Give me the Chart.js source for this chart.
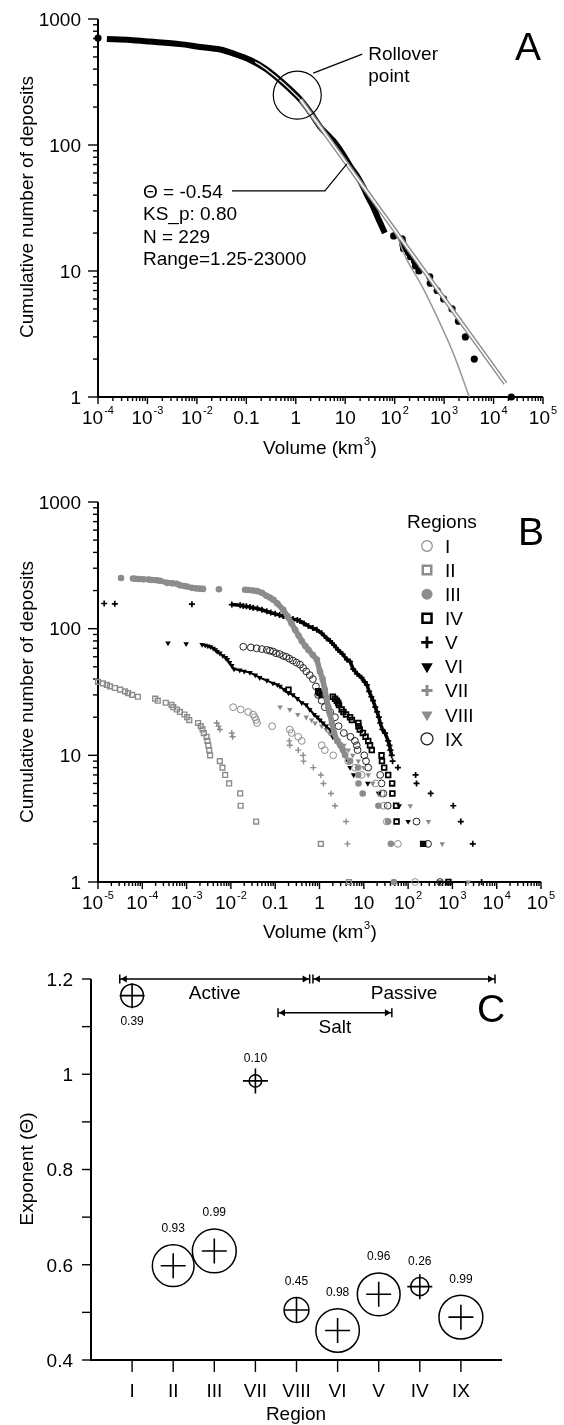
<!DOCTYPE html>
<html lang="en">
<head>
<meta charset="utf-8">
<title>Deposit volume distributions</title>
<script src="https://cdn.jsdelivr.net/npm/chart.js@4.4.1/dist/chart.umd.min.js"></script>
<style>
  html, body { margin: 0; padding: 0; background: #fff; }
  #page { position: relative; width: 564px; height: 1425px; overflow: hidden; }
  canvas { position: absolute; left: 0; }
</style>
</head>
<body>
<div id="page">
  <canvas id="chartA" width="564" height="465" style="top:0px"></canvas>
  <canvas id="chartB" width="564" height="480" style="top:465px"></canvas>
  <canvas id="chartC" width="564" height="480" style="top:945px"></canvas>
</div>
<script>
const FONT = '"Liberation Sans", Arial, Helvetica, sans-serif';
const GREY = '#8c8c8c';

// ---------- A: all deposits (x = log10 of volume in km3, y = cumulative count) ----------
const aCurveLogVol = [-3.82, -3.35, -2.95, -2.34, -1.94, -1.53, -1.23, -0.92, -0.60, -0.25, 0.097, 0.30, 0.50, 0.76, 0.95, 1.10, 1.25, 1.37, 1.47, 1.57, 1.65, 1.71, 1.80];
const aCurveCount = [693, 681, 662, 632, 600, 573, 527, 473, 400, 309, 229, 180, 138, 108, 85, 68, 56, 46, 38, 32, 27, 24, 20];
const aDotLogVol = [-4.0, 1.98, 2.15, 2.16, 2.17, 2.18, 2.28, 2.32, 2.40, 2.42, 2.49, 2.71, 2.72, 2.86, 2.99, 3.16, 3.29, 3.43, 3.61, 4.36];
const aDotCount = [706, 19, 18, 17, 16, 15, 14, 13, 12, 11, 10, 9, 8, 7, 6, 5, 4, 3, 2, 1];
const aCoreLogVol = [-0.82, -0.60, -0.25, 0.097];
const aCoreCount = [456, 400, 309, 229];
const aPowerLogVol = [0.097, 4.24];
const aPowerCount = [229, 1.28];
const aTaperLogVol = [0.097, 1.0, 1.7, 2.0, 2.25, 2.52, 2.86, 3.19, 3.51];
const aTaperCount = [229, 73.5, 30.5, 20.5, 12.2, 8.0, 4.3, 2.2, 1.0];
const aStats = ['\u0398 = -0.54', 'KS_p: 0.80', 'N = 229', 'Range=1.25-23000'];
const rollover = [0.03, 249];      // log10 volume, count
const statsTip = [1.034, 70.8];    // point on the power-law fit

// ---------- B: by region ----------
const regionNames = ['I', 'II', 'III', 'IV', 'V', 'VI', 'VII', 'VIII', 'IX'];
const volI = [-1.95, -1.78, -1.61, -1.50, -1.46, -1.43, -1.41, -1.07, -0.67, -0.63, -0.48, -0.40, 0.05, 0.12, 0.31, 0.65, 0.80, 0.95, 1.27, 1.40, 1.45, 1.52, 1.77, 2.16];
const numI = [24, 23, 22, 21, 20, 19, 18, 17, 16, 15, 14, 13, 12, 11, 10, 9, 8, 7, 6, 5, 4, 3, 2, 1];
const volII = [-5.0, -4.89, -4.80, -4.73, -4.62, -4.50, -4.39, -4.32, -4.23, -4.10, -3.71, -3.65, -3.47, -3.34, -3.30, -3.22, -3.15, -3.05, -2.99, -2.94, -2.74, -2.68, -2.64, -2.61, -2.55, -2.53, -2.51, -2.49, -2.47, -2.25, -2.19, -2.13, -2.04, -1.79, -1.78, -1.43, 0.03, 0.665];
const numII = [38, 37, 36, 35, 34, 33, 32, 31, 30, 29, 28, 27, 26, 25, 24, 23, 22, 21, 20, 19, 18, 17, 16, 15, 14, 13, 12, 11, 10, 9, 8, 7, 6, 5, 4, 3, 2, 1];
const volIII = [-4.48, -4.21, -4.15, -4.08, -3.98, -3.85, -3.78, -3.68, -3.60, -3.44, -3.33, -3.22, -3.15, -3.05, -2.99, -2.88, -2.78, -2.70, -2.63, -2.27, -1.68, -1.60, -1.50, -1.41, -1.30, -1.20, -1.12, -1.04, -0.95, -0.82, -0.72, -0.63, -0.55, -0.47, -0.40, -0.32, -0.25, -0.15, -0.06, 0.01, 0.07, 0.12, 0.16, 0.20, 0.24, 0.28, 0.33, 0.40, 0.47, 0.53, 0.58, 0.69, 0.87, 0.875, 0.88, 0.975, 1.33, 1.55, 1.61, 1.68];
const numIII = [251, 249, 248, 247, 245, 244, 242, 241, 239, 230, 228, 226, 220, 217, 215, 210, 208, 207, 206, 205, 203, 202, 200, 198, 192, 182, 176, 169, 158, 141, 125, 110, 98, 88, 80, 73, 68, 62, 57, 46, 40, 33, 28, 24, 21, 18, 15, 13, 12, 11, 10, 9, 8, 7, 6, 5, 4, 3, 2, 1];
const volIV = [-0.70, -0.03, 0.00, 0.05, 0.30, 0.35, 0.39, 0.42, 0.44, 0.50, 0.54, 0.60, 0.69, 0.73, 0.876, 0.88, 0.91, 0.98, 1.04, 1.10, 1.14, 1.18, 1.40, 1.41, 1.46, 1.55, 1.64, 1.645, 1.73, 1.74, 2.34, 2.91];
const numIV = [33, 32, 31, 30, 29, 28, 27, 26, 25, 23, 22, 21, 20, 19, 18, 17, 16, 15, 14, 13, 12, 11, 10, 9, 8, 7, 6, 5, 4, 3, 2, 1];
const volV = [-4.86, -4.62, -2.88, -1.98, -1.79, -1.72, -1.65, -1.57, -1.50, -1.40, -1.30, -1.19, -1.10, -1.00, -0.90, -0.82, -0.72, -0.60, -0.50, -0.44, -0.35, -0.25, -0.15, -0.06, 0.05, 0.16, 0.24, 0.33, 0.42, 0.52, 0.62, 0.69, 0.76, 0.85, 0.95, 1.02, 1.07, 1.12, 1.17, 1.21, 1.26, 1.30, 1.34, 1.37, 1.42, 1.48, 1.55, 1.58, 1.60, 1.63, 1.65, 1.77, 2.17, 2.19, 2.51, 3.02, 3.19, 3.46, 3.66];
const numV = [158, 157, 156, 155, 153, 151, 150, 148, 146, 144, 141, 137, 134, 131, 128, 126, 122, 119, 117, 115, 110, 105, 101, 98, 92, 84, 80, 74, 68, 63, 57, 55, 48, 44, 41, 38, 36, 32, 29, 27, 24, 22, 20, 18, 16, 15, 13, 12, 11, 10, 9, 8, 7, 6, 5, 4, 3, 2, 1];
const volVI = [-3.42, -3.01, -2.65, -2.58, -2.52, -2.46, -2.40, -2.35, -2.31, -2.25, -2.18, -2.12, -2.08, -2.03, -1.98, -1.93, -1.80, -1.70, -1.57, -1.45, -1.35, -1.19, -1.05, -0.95, -0.89, -0.80, -0.70, -0.60, -0.50, -0.40, -0.30, -0.22, -0.12, -0.05, 0.01, 0.08, 0.15, 0.24, 0.30, 0.38, 0.46, 0.52, 0.58, 0.64, 0.69, 0.77, 1.09, 1.34, 1.80, 2.00, 2.34, 2.72];
const numVI = [77, 76, 75, 74, 73, 72, 70, 68, 66, 64, 61, 59, 57, 54, 51, 48, 47, 46, 45, 43, 41, 39, 37, 36, 35, 33, 31, 30, 28, 26, 25, 23, 21, 20, 19, 18, 17, 16, 14, 13, 12, 11, 10, 9, 8, 7, 6, 5, 4, 3, 2, 1];
const volVII = [-2.32, -2.28, -2.25, -1.98, -1.96, -0.68, -0.67, -0.48, -0.37, -0.36, -0.14, 0.03, 0.09, 0.26, 0.35, 0.60, 0.63];
const numVII = [18, 17, 16, 15, 14, 13, 12, 11, 10, 9, 8, 7, 6, 5, 4, 3, 2];
const volVIII = [-0.89, -0.67, -0.49, -0.30, -0.18, -0.10, 0.05, 0.15, 0.22, 0.30, 0.43, 0.55, 0.65, 0.75, 0.876, 1.00, 1.10, 1.20, 1.33, 2.05, 2.46, 2.77, 3.36];
const numVIII = [24, 23, 21, 20, 19, 18, 17, 16, 15, 14, 13, 12, 11, 10, 9, 8, 7, 6, 5, 4, 3, 2, 1];
const volIX = [-1.72, -1.55, -1.42, -1.30, -1.19, -1.12, -1.05, -0.98, -0.90, -0.82, -0.75, -0.68, -0.60, -0.52, -0.44, -0.37, -0.30, -0.22, -0.15, -0.08, -0.03, 0.05, 0.12, 0.24, 0.35, 0.43, 0.55, 0.70, 0.80, 0.84, 0.86, 1.01, 1.05, 1.10, 1.37, 1.40, 1.44, 1.54, 2.19, 2.45, 2.72];
const numIX = [72, 71, 70, 69, 68, 67, 66, 64, 63, 61, 60, 58, 56, 54, 52, 49, 46, 43, 40, 35, 30, 27, 24, 22, 20, 17, 15, 14, 13, 12, 11, 10, 9, 8, 7, 6, 5, 4, 3, 2, 1];

// ---------- C: exponent per region ----------
const regionOrder = ['I', 'II', 'III', 'VII', 'VIII', 'VI', 'V', 'IV', 'IX'];
const exponentTheta = [1.165, 0.598, 0.629, 0.986, 0.505, 0.462, 0.538, 0.554, 0.490];
const ksPValue = [0.39, 0.93, 0.99, 0.10, 0.45, 0.98, 0.96, 0.26, 0.99];
const settingNames = ['Active', 'Passive', 'Salt'];
const settingFrom = [-0.30, 4.40, 3.55];
const settingTo = [4.32, 8.83, 6.32];
const settingLevel = [1.2, 1.2, 1.129];

// marker look of each region in B (same order as regionNames)
const regionMarks = [
  { style: 'circle', rot: 0, r: 3.4, w: 1.0, fill: 'rgba(0,0,0,0)', line: GREY, lr: 5.3, lw: 1.2 },
  { style: 'rect', rot: 0, r: 3.4, w: 1.4, fill: 'rgba(0,0,0,0)', line: GREY, lr: 6.0, lw: 2.5 },
  { style: 'circle', rot: 0, r: 3.3, w: 0, fill: GREY, line: GREY, lr: 5.5, lw: 0, join: 5.5 },
  { style: 'rect', rot: 0, r: 3.3, w: 1.8, fill: 'rgba(0,0,0,0)', line: '#000', lr: 6.4, lw: 2.5 },
  { style: 'cross', rot: 0, r: 3.0, w: 1.7, fill: '#000', line: '#000', lr: 5.8, lw: 2.7, join: 3.5 },
  { style: 'triangle', rot: 180, r: 3.2, w: 0, fill: '#000', line: '#000', lr: 6.7, lw: 0, join: 2 },
  { style: 'cross', rot: 0, r: 3.0, w: 1.4, fill: GREY, line: GREY, lr: 5.5, lw: 3 },
  { style: 'triangle', rot: 180, r: 3.2, w: 0, fill: GREY, line: GREY, lr: 6.5, lw: 0 },
  { style: 'circle', rot: 0, r: 3.4, w: 1.0, fill: 'rgba(0,0,0,0)', line: '#222', lr: 6.0, lw: 1.3 }
];
const regionVol = [volI, volII, volIII, volIV, volV, volVI, volVII, volVIII, volIX];
const regionNum = [numI, numII, numIII, numIV, numV, numVI, numVII, numVIII, numIX];

const pts = (xs, ys) => xs.map((v, i) => ({ x: v, y: ys[i] }));

function line(ctx, x1, y1, x2, y2) {
  ctx.beginPath(); ctx.moveTo(x1, y1); ctx.lineTo(x2, y2); ctx.stroke();
}

// 0.1, 1, 10 are plain; the other decades are 10 with a raised exponent
function decadeLabel(ctx, k, x, y) {
  let base = '10', sup = String(k);
  if (k === -1) { base = '0.1'; sup = ''; }
  if (k === 0) { base = '1'; sup = ''; }
  if (k === 1) { sup = ''; }
  ctx.font = '19px ' + FONT;
  const w1 = ctx.measureText(base).width;
  ctx.font = '11px ' + FONT;
  const w2 = sup ? ctx.measureText(sup).width + 1 : 0;
  const x0 = x - (w1 + w2) / 2;
  ctx.textAlign = 'left';
  ctx.font = '19px ' + FONT;
  ctx.fillText(base, x0, y);
  if (sup) { ctx.font = '11px ' + FONT; ctx.fillText(sup, x0 + w1 + 1, y - 10); }
}

function volumeTitle(ctx, cx, y) {
  const a = 'Volume (km', b = ')';
  ctx.font = '19px ' + FONT;
  const wa = ctx.measureText(a).width, wb = ctx.measureText(b).width;
  ctx.font = '11px ' + FONT;
  const ws = ctx.measureText('3').width + 1;
  const x0 = cx - (wa + ws + wb) / 2;
  ctx.textAlign = 'left';
  ctx.font = '19px ' + FONT;
  ctx.fillText(a, x0, y);
  ctx.fillText(b, x0 + wa + ws, y);
  ctx.font = '11px ' + FONT;
  ctx.fillText('3', x0 + wa + 0.5, y - 9);
}

function sideTitle(ctx, text, x, cy) {
  ctx.save();
  ctx.translate(x, cy);
  ctx.rotate(-Math.PI / 2);
  ctx.textAlign = 'center';
  ctx.font = '19px ' + FONT;
  ctx.fillText(text, 0, 0);
  ctx.restore();
}

function panelLetter(ctx, s, cx, y) {
  ctx.textAlign = 'center';
  ctx.font = '39px ' + FONT;
  ctx.fillText(s, cx, y);
}

// log-log frame: decade ticks with minor ticks, drawn from the chart scales
function logFrame(chart, xLo, xHi, yHi) {
  const { ctx, chartArea: a, scales: { x, y } } = chart;
  ctx.save();
  ctx.strokeStyle = '#000';
  ctx.fillStyle = '#000';
  ctx.lineWidth = 1.4;
  for (let k = 0; k <= yHi; k++) {
    for (let m = 1; m <= 9; m++) {
      if (k === yHi && m > 1) break;
      const py = y.getPixelForValue(m * Math.pow(10, k));
      line(ctx, a.left - (m === 1 ? 10 : 5), py, a.left, py);
      if (m === 1) {
        ctx.font = '19px ' + FONT;
        ctx.textAlign = 'right';
        ctx.fillText(String(Math.pow(10, k)), a.left - 17, py + 6.8);
      }
    }
  }
  for (let k = xLo; k <= xHi; k++) {
    const px = x.getPixelForValue(k);
    line(ctx, px, a.bottom, px, a.bottom + 7);
    decadeLabel(ctx, k, px, a.bottom + 27);
    if (k < xHi) {
      for (let m = 2; m <= 9; m++) {
        const mx = x.getPixelForValue(k + Math.log10(m));
        line(ctx, mx, a.bottom, mx, a.bottom + 4);
      }
    }
  }
  ctx.lineWidth = 2;
  ctx.beginPath();
  ctx.moveTo(a.left, a.top);
  ctx.lineTo(a.left, a.bottom);
  ctx.lineTo(a.right, a.bottom);
  ctx.stroke();
  ctx.restore();
}

const baseOptions = (padding, xMin, xMax, yType, yMin, yMax) => ({
  responsive: false,
  animation: false,
  devicePixelRatio: 1,
  layout: { padding },
  scales: {
    x: { type: 'linear', min: xMin, max: xMax, display: false },
    y: { type: yType, min: yMin, max: yMax, display: false }
  },
  plugins: { legend: { display: false }, tooltip: { enabled: false } },
  elements: { line: { borderCapStyle: 'butt' } }
});

// ---------------- chart A ----------------
const panelAExtras = {
  id: 'panelAExtras',
  beforeDatasetsDraw(chart) { logFrame(chart, -4, 5, 3); },
  afterDatasetsDraw(chart) {
    const { ctx, scales: { x, y } } = chart;
    ctx.save();
    ctx.fillStyle = '#000';
    ctx.strokeStyle = '#000';
    ctx.lineWidth = 1.2;
    const cx = x.getPixelForValue(rollover[0]), cy = y.getPixelForValue(rollover[1]);
    ctx.beginPath(); ctx.arc(cx, cy, 24, 0, Math.PI * 2); ctx.stroke();
    line(ctx, cx + 16, cy - 22, cx + 65, cy - 41);
    ctx.font = '19px ' + FONT;
    ctx.textAlign = 'left';
    ctx.fillText('Rollover', cx + 71, cy - 35);
    ctx.fillText('point', cx + 71, cy - 13);

    const tx = x.getPixelForValue(statsTip[0]), ty = y.getPixelForValue(statsTip[1]);
    ctx.beginPath();
    ctx.moveTo(tx, ty);
    ctx.lineTo(tx - 22, ty + 27);
    ctx.lineTo(232, ty + 27);
    ctx.stroke();
    aStats.forEach((s, i) => ctx.fillText(s, 143, 198 + i * 22.3));

    sideTitle(ctx, 'Cumulative number of deposits', 33, 207);
    volumeTitle(ctx, 320, 454);
    panelLetter(ctx, 'A', 528, 60);
    ctx.restore();
  }
};

new Chart(document.getElementById('chartA'), {
  type: 'scatter',
  data: {
    datasets: [
      { data: pts(aPowerLogVol, aPowerCount), showLine: true, borderColor: '#fff', borderWidth: 1.6, pointRadius: 0 },
      { data: pts(aTaperLogVol, aTaperCount), showLine: true, borderColor: '#999', borderWidth: 1.5, tension: 0.35, pointRadius: 0 },
      { data: pts(aPowerLogVol, aPowerCount), showLine: true, borderColor: '#8c8c8c', borderWidth: 4.5, pointRadius: 0 },
      { data: pts(aCoreLogVol, aCoreCount), showLine: true, borderColor: '#e6e6e6', borderWidth: 1.4, tension: 0.3, pointRadius: 0 },
      { data: pts(aDotLogVol, aDotCount), pointRadius: 3.6, pointBackgroundColor: '#000', pointBorderWidth: 0, clip: false },
      { data: pts(aCurveLogVol, aCurveCount), showLine: true, borderColor: '#000', borderWidth: 6, tension: 0.3, pointRadius: 0 }
    ]
  },
  options: baseOptions({ left: 98, top: 19, right: 21, bottom: 68 }, -4, 5, 'logarithmic', 1, 1000),
  plugins: [panelAExtras]
});

// ---------------- chart B ----------------
// fill the gaps of the crowded stretches so they read as a thick band
const joinNear = color => ({
  borderColor: c => (Math.abs(c.p1.x - c.p0.x) < 9 && Math.abs(c.p1.y - c.p0.y) < 12 &&
    c.p1.parsed.y >= 10 ? color : 'rgba(0,0,0,0)')
});

const bDatasets = regionNames.map((name, i) => {
  const m = regionMarks[i];
  const ds = {
    label: name,
    data: pts(regionVol[i], regionNum[i]),
    pointStyle: m.style,
    pointRotation: m.rot,
    pointRadius: m.r,
    pointBorderWidth: m.w,
    pointBorderColor: m.line,
    pointBackgroundColor: m.fill,
    clip: false
  };
  if (m.join) {
    ds.showLine = true;
    ds.borderWidth = m.join;
    ds.borderColor = m.line;
    ds.segment = joinNear(m.line);
  }
  return ds;
});

const panelBExtras = {
  id: 'panelBExtras',
  beforeDatasetsDraw(chart) { logFrame(chart, -5, 5, 3); },
  afterDatasetsDraw(chart) {
    const { ctx } = chart;
    ctx.save();
    ctx.fillStyle = '#000';
    sideTitle(ctx, 'Cumulative number of deposits', 33, 227);
    volumeTitle(ctx, 320, 473);
    panelLetter(ctx, 'B', 531, 80);
    ctx.font = '19px ' + FONT;
    ctx.textAlign = 'left';
    ctx.fillText('Regions', 407, 63);
    regionNames.forEach((name, i) => {
      const m = regionMarks[i];
      const cy = 81 + i * 24.1;
      ctx.fillStyle = m.fill;
      ctx.strokeStyle = m.line;
      ctx.lineWidth = m.lw;
      Chart.helpers.drawPoint(ctx, { pointStyle: m.style, rotation: m.rot, radius: m.lr, borderWidth: m.lw }, 427, cy);
      ctx.fillStyle = '#000';
      ctx.font = '19px ' + FONT;
      ctx.fillText(name, 445, cy + 6.8);
    });
    ctx.restore();
  }
};

new Chart(document.getElementById('chartB'), {
  type: 'scatter',
  data: { datasets: bDatasets },
  options: baseOptions({ left: 98, top: 37, right: 23, bottom: 63 }, -5, 5, 'logarithmic', 1, 1000),
  plugins: [panelBExtras]
});

// ---------------- chart C ----------------
const cPoints = regionOrder.map((r, i) => ({ x: i, y: exponentTheta[i] }));

const panelCExtras = {
  id: 'panelCExtras',
  beforeDatasetsDraw(chart) {
    const { ctx, chartArea: a, scales: { x, y } } = chart;
    ctx.save();
    ctx.strokeStyle = '#000';
    ctx.fillStyle = '#000';
    ctx.lineWidth = 1.4;
    ctx.font = '19px ' + FONT;
    for (let t = 4; t <= 12; t++) {
      const py = y.getPixelForValue(t / 10);
      line(ctx, a.left - 9, py, a.left, py);
      if (t % 2 === 0) {
        ctx.textAlign = 'right';
        ctx.fillText(t === 10 ? '1' : String(t / 10), a.left - 18, py + 6.8);
      }
    }
    regionOrder.forEach((r, i) => {
      const px = x.getPixelForValue(i);
      line(ctx, px, a.bottom, px, a.bottom + 12);
      ctx.textAlign = 'center';
      ctx.fillText(r, px, a.bottom + 37);
    });
    ctx.lineWidth = 2;
    ctx.beginPath();
    ctx.moveTo(a.left, a.top);
    ctx.lineTo(a.left, a.bottom);
    ctx.lineTo(a.right, a.bottom);
    ctx.stroke();
    ctx.restore();
  },
  afterDatasetsDraw(chart) {
    const { ctx, scales: { x, y } } = chart;
    ctx.save();
    ctx.fillStyle = '#000';
    ctx.strokeStyle = '#000';
    ctx.lineWidth = 1.5;
    settingNames.forEach((name, i) => {
      const x1 = x.getPixelForValue(settingFrom[i]);
      const x2 = x.getPixelForValue(settingTo[i]);
      const py = y.getPixelForValue(settingLevel[i]);
      line(ctx, x1, py, x2, py);
      line(ctx, x1, py - 4.5, x1, py + 4.5);
      line(ctx, x2, py - 4.5, x2, py + 4.5);
      ctx.beginPath(); ctx.moveTo(x1 + 1, py); ctx.lineTo(x1 + 7, py - 3.5); ctx.lineTo(x1 + 7, py + 3.5); ctx.closePath(); ctx.fill();
      ctx.beginPath(); ctx.moveTo(x2 - 1, py); ctx.lineTo(x2 - 7, py - 3.5); ctx.lineTo(x2 - 7, py + 3.5); ctx.closePath(); ctx.fill();
      ctx.font = '19px ' + FONT;
      ctx.textAlign = 'center';
      ctx.fillText(name, (x1 + x2) / 2, py + 20);
    });
    // KS p-value beside each circle
    ctx.font = '12px ' + FONT;
    ctx.textAlign = 'center';
    regionOrder.forEach((r, i) => {
      const px = x.getPixelForValue(i), py = y.getPixelForValue(exponentTheta[i]);
      const rad = 4.5 + 17.6 * ksPValue[i];
      const below = exponentTheta[i] > 1.1;
      const ty = below ? py + rad + 14 : py - rad - 17;
      ctx.fillText(ksPValue[i].toFixed(2), px, ty + 4.3);
    });
    ctx.font = '19px ' + FONT;
    sideTitle(ctx, 'Exponent (\u0398)', 33, 224);
    ctx.textAlign = 'center';
    ctx.fillText('Region', 296, 475);
    panelLetter(ctx, 'C', 491, 77);
    ctx.restore();
  }
};

new Chart(document.getElementById('chartC'), {
  type: 'scatter',
  data: {
    datasets: [
      { data: cPoints, pointStyle: 'cross', pointRadius: 12.5, pointBorderWidth: 1.6, pointBorderColor: '#000', clip: false },
      { data: cPoints, pointStyle: 'circle', pointRadius: c => 4.5 + 17.6 * ksPValue[c.dataIndex], pointBorderWidth: 1.5,
        pointBorderColor: '#000', pointBackgroundColor: 'rgba(0,0,0,0)', clip: false }
    ]
  },
  options: baseOptions({ left: 91, top: 34, right: 62, bottom: 65 }, -1, 9, 'linear', 0.4, 1.2),
  plugins: [panelCExtras]
});
</script>
</body>
</html>
